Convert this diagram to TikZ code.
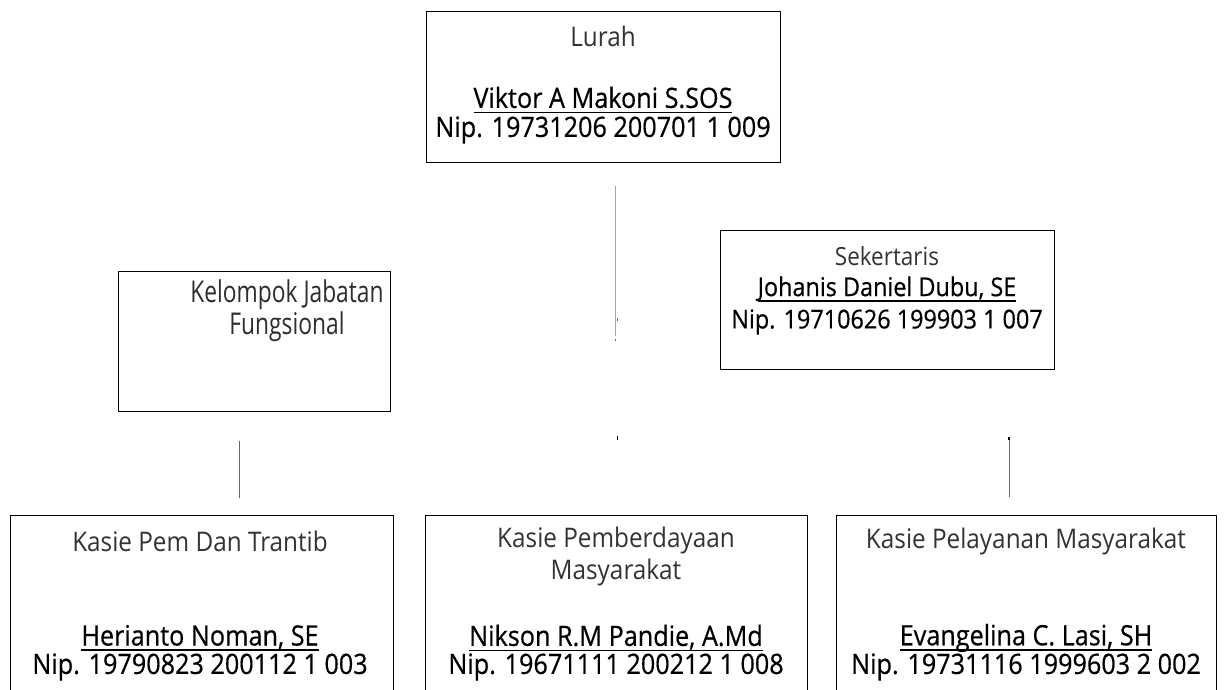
\documentclass[tikz,border=0pt]{standalone}
\usepackage{fontspec}
\setmainfont{Open Sans}[FakeStretch=0.9]
\newfontfamily\nmfont{Open Sans}[FakeStretch=0.9, FakeBold=0.5]
\newfontfamily\kelfont{Open Sans}[FakeStretch=0.76]
\newcommand{\ulx}[1]{\setbox0=\hbox{#1}\rlap{\rule[-5.5pt]{\wd0}{1.6pt}}\box0}
\begin{document}
\begin{tikzpicture}[x=1pt,y=-1pt,
  box/.style={draw=black, line width=1.3pt, anchor=north west, inner sep=0pt},
  ttl/.style={inner sep=0pt, text=black!80, font=\fontsize{27}{31}\selectfont},
  nm/.style={inner sep=0pt, text=black, font=\nmfont\fontsize{28}{32}\selectfont},
  smallttl/.style={ttl, font=\fontsize{25}{30}\selectfont},
  smallnm/.style={nm, font=\nmfont\fontsize{26}{30}\selectfont},
  big/.style={inner sep=0pt, text=black!82, font=\kelfont\fontsize{30}{32}\selectfont, align=center},
  link/.style={draw=black!35, line width=1pt},
  linkd/.style={draw=black!60, line width=1pt}]
\useasboundingbox (0,0) rectangle (1224,690);
\fill[white] (0,0) rectangle (1224,690);
% boxes
\node[box, minimum width=354pt, minimum height=151pt] (lurah) at (426,11) {};
\node[box, minimum width=272pt, minimum height=140pt] (kel) at (118,271) {};
\node[box, minimum width=334pt, minimum height=139pt] (sek) at (720,230) {};
\node[box, minimum width=383pt, minimum height=200pt] (k1) at (10,515) {};
\node[box, minimum width=382pt, minimum height=200pt] (k2) at (425,515) {};
\node[box, minimum width=380pt, minimum height=200pt] (k3) at (836,515) {};
% texts
\node[ttl] (lurahT) at (603,36) {Lurah};
\node[nm] (lurahN) at (603,100) {\ulx{Viktor A Makoni S.SOS}};
\node[nm] (lurahP) at (603,130) {Nip. 19731206 200701 1 009};
\node[big] (kelT) at (287,311) {Kelompok Jabatan\\Fungsional};
\node[smallttl] (sekT) at (887,256) {Sekertaris};
\node[smallnm] (sekN) at (887,289) {\ulx{Johanis Daniel Dubu, SE}};
\node[smallnm] (sekP) at (887,322) {Nip. 19710626 199903 1 007};
\node[ttl] (k1T) at (200,541) {Kasie Pem Dan Trantib};
\node[nm] (k1N) at (200,638) {\ulx{Herianto Noman, SE}};
\node[nm] (k1P) at (200,667) {Nip. 19790823 200112 1 003};
\node[ttl] (k2T) at (616,540) {Kasie Pemberdayaan};
\node[ttl] (k2T2) at (616,572) {Masyarakat};
\node[nm] (k2N) at (616,638) {\ulx{Nikson R.M Pandie, A.Md}};
\node[nm] (k2P) at (616,667) {Nip. 19671111 200212 1 008};
\node[ttl] (k3T) at (1026,541) {Kasie Pelayanan Masyarakat};
\node[nm] (k3N) at (1026,638) {\ulx{Evangelina C. Lasi, SH}};
\node[nm] (k3P) at (1026,667) {Nip. 19731116 1999603 2 002};
% connector fragments
\coordinate (c1) at (615,186); \coordinate (c2) at (615,336);
\coordinate (c3) at (617,318); \coordinate (c4) at (617,321);
\coordinate (c5) at (615,339); \coordinate (c6) at (615,341);
\coordinate (c7) at (617,436); \coordinate (c8) at (617,440);
\coordinate (l1) at (239,441); \coordinate (l2) at (239,498);
\coordinate (r1) at (1009,437); \coordinate (r2) at (1009,497);
\coordinate (r3) at (1009,440);
\draw[link] (c1) -- (c2);
\draw[linkd] (c3) -- (c4);
\draw[linkd] (c5) -- (c6);
\draw[draw=black, line width=1pt] (c7) -- (c8);
\draw[linkd] (l1) -- (l2);
\draw[linkd] (r1) -- (r2);
\draw[draw=black, line width=2pt] (r1) -- (r3);
\end{tikzpicture}
\end{document}
